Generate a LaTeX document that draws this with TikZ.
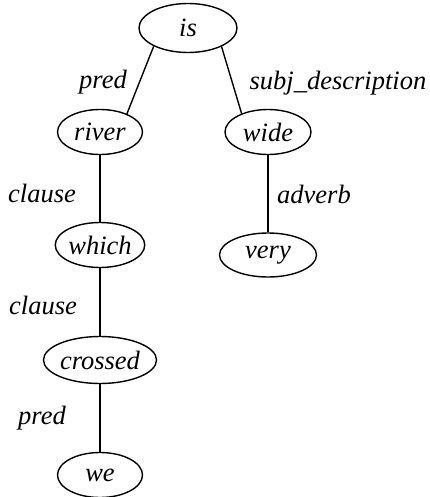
\documentclass[tikz,border=0pt]{standalone}
\usepackage{fontspec}
\setmainfont{Liberation Serif}
\usetikzlibrary{shapes.geometric}

\tikzset{
	word/.style={draw, ellipse, line width=1.4pt, inner sep=0pt},
	rel/.style={font=\fontsize{26.5}{30}\selectfont\itshape},
	link/.style={line width=1.4pt}
}

\begin{document}
\begin{tikzpicture}[x=1pt, y=-1pt, font=\fontsize{26.5}{30}\selectfont\itshape]
	\useasboundingbox (0, 0) rectangle (430, 497);
	
	% words
	\node[word, minimum width=98, minimum height=49] (is) at (188, 28) {is};
	\node[word, minimum width=85, minimum height=45] (river) at (100, 132) {river};
	\node[word, minimum width=86, minimum height=45] (wide) at (268, 132) {wide};
	\node[word, minimum width=85, minimum height=45] (which) at (100, 245) {which};
	\node[word, minimum width=97, minimum height=44] (very) at (268, 255) {very};
	\node[word, minimum width=113, minimum height=47] (crossed) at (100, 360) {crossed};
	\node[word, minimum width=85, minimum height=45] (we) at (100, 475) {we};
	
	% links
	\draw[link] (is.208) -- (river.34);
	\draw[link] (is.331) -- (wide.145);
	\draw[link] (river) -- (which);
	\draw[link] (wide) -- (very);
	\draw[link] (which) -- (crossed);
	\draw[link] (crossed) -- (we);
	
	% relations
	\node[rel] (pred1) at (103, 82) {pred};
	\node[rel] (subj) at (338, 83) {subj\_description};
	\node[rel] (clause1) at (42, 193) {clause};
	\node[rel] (adverb) at (314, 194) {adverb};
	\node[rel] (clause2) at (43, 305) {clause};
	\node[rel] (pred2) at (42, 418) {pred};
\end{tikzpicture}
\end{document}
